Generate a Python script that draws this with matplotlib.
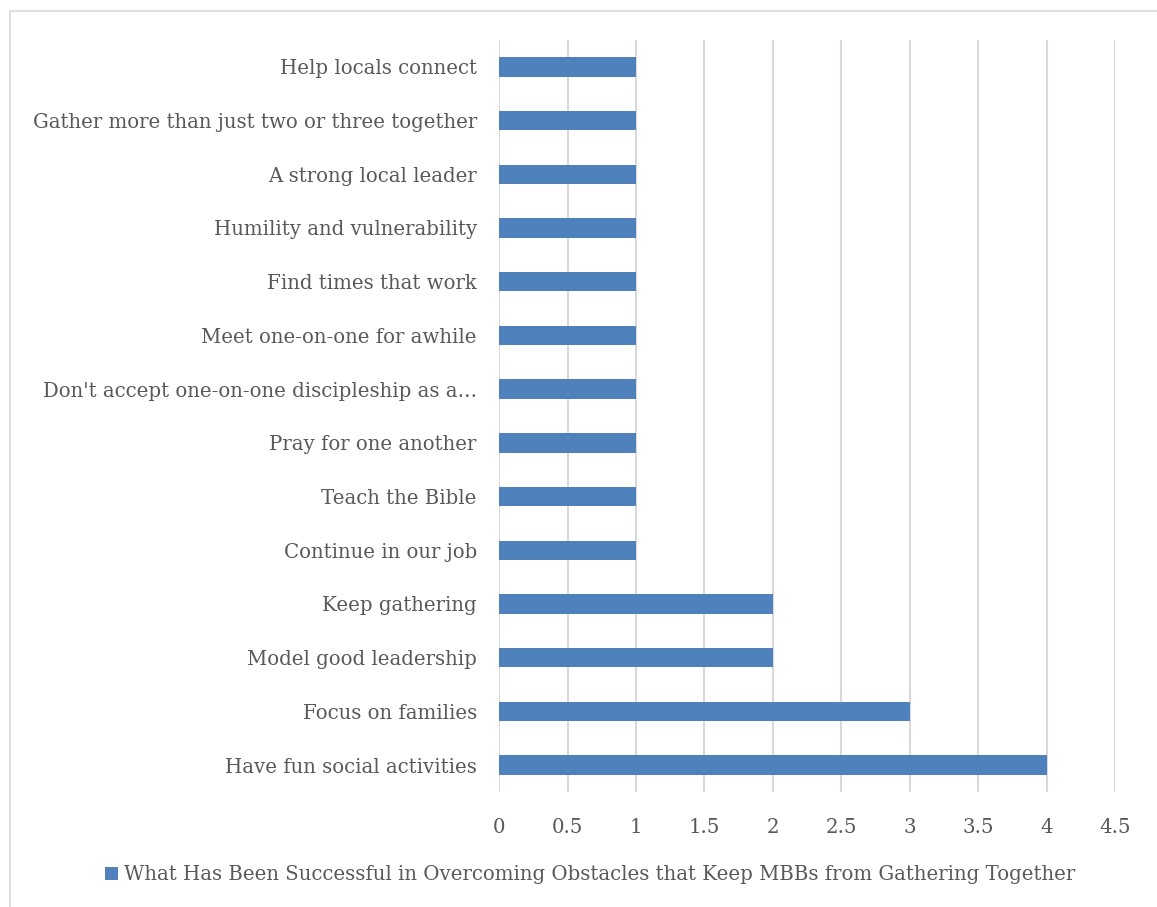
import matplotlib.pyplot as plt
from matplotlib.lines import Line2D
from matplotlib.patches import Patch

plt.rcParams.update({
    "font.family": "DejaVu Serif",
    "font.size": 14.2,
})

# Responses, listed top to bottom as they appear in the chart
strategies = [
    "Help locals connect",
    "Gather more than just two or three together",
    "A strong local leader",
    "Humility and vulnerability",
    "Find times that work",
    "Meet one-on-one for awhile",
    "Don't accept one-on-one discipleship as a\u2026",
    "Pray for one another",
    "Teach the Bible",
    "Continue in our job",
    "Keep gathering",
    "Model good leadership",
    "Focus on families",
    "Have fun social activities",
]
counts = [1, 1, 1, 1, 1, 1, 1, 1, 1, 1, 2, 2, 3, 4]
xticks = [0, 0.5, 1, 1.5, 2, 2.5, 3, 3.5, 4, 4.5]
series_name = "What Has Been Successful in Overcoming Obstacles that Keep MBBs from Gathering Together"

bar_color = "#4F81BD"
text_color = "#595959"
grid_color = "#D9D9D9"

fig = plt.figure(figsize=(11.57, 9.07), dpi=100)
ax = fig.add_axes([0.4313, 0.1268, 0.5328, 0.8291])

ypos = range(len(strategies))
ax.barh(ypos, counts, height=0.36, color=bar_color, zorder=3)
ax.set_yticks(list(ypos))
ax.set_yticklabels(strategies)
ax.set_ylim(len(strategies) - 0.5, -0.5)

ax.set_xlim(0, 4.5)
ax.set_xticks(xticks)
ax.set_xticklabels([f"{t:g}" for t in xticks])
ax.xaxis.grid(True, color=grid_color, lw=1.5, zorder=0)
ax.set_axisbelow(True)

for s in ax.spines.values():
    s.set_visible(False)
ax.tick_params(axis="both", length=0, colors=text_color, labelsize=14.2)
ax.tick_params(axis="x", pad=19)
ax.tick_params(axis="y", pad=16)

# legend below the plot
handle = Patch(facecolor=bar_color, edgecolor="none")
fig.legend([handle], [series_name], loc="center", bbox_to_anchor=(0.51, 0.0353),
           frameon=False, handlelength=0.68, handleheight=0.68,
           handletextpad=0.3, labelcolor=text_color, fontsize=14.2)

# chart area border (left and top edges)
fig.add_artist(Line2D([10 / 1157, 10 / 1157, 1.0], [0.0, 1 - 11 / 907, 1 - 11 / 907],
                      transform=fig.transFigure, color=grid_color, lw=1.2))

plt.savefig("out.png", dpi=100)
